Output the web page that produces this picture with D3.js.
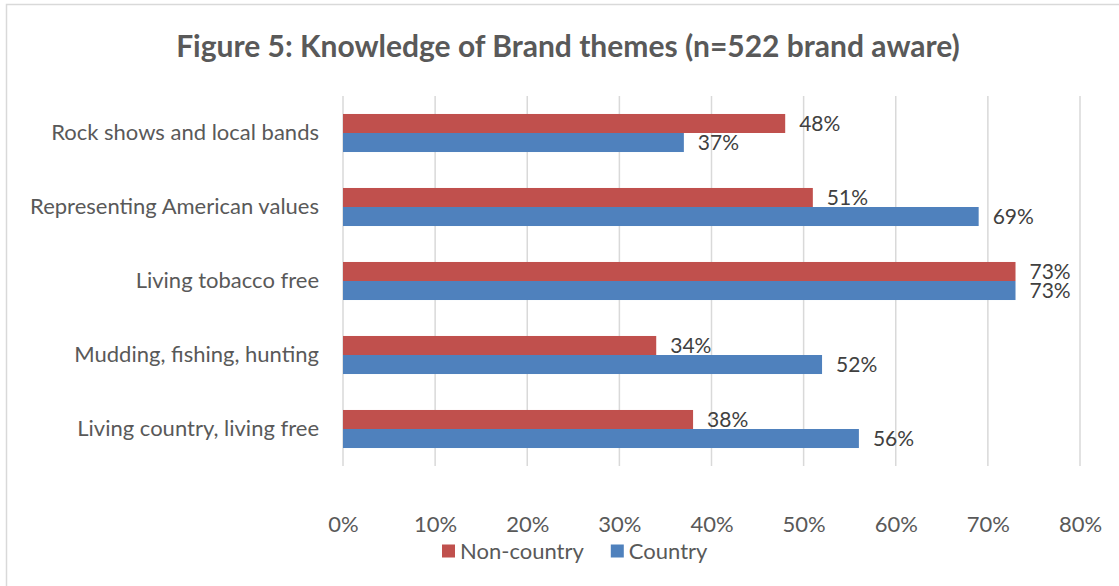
<!DOCTYPE html>
<html>
<head>
<meta charset="utf-8">
<script src="https://cdn.jsdelivr.net/npm/d3@7"></script>
<style>
  html, body { margin: 0; padding: 0; background: #fff; }
  svg { display: block; }
  text { font-family: Lato, "Open Sans", sans-serif; }
</style>
</head>
<body>
<svg id="chart" width="1119" height="586"></svg>
<script>
// Brand theme knowledge by audience segment
const categories = [
  "Rock shows and local bands",
  "Representing American values",
  "Living tobacco free",
  "Mudding, fishing, hunting",
  "Living country, living free"
];
const seriesNames = ["Non-country", "Country"];
const nonCountry = [48, 51, 73, 34, 38];
const country = [37, 69, 73, 52, 56];
const tickValues = [0, 10, 20, 30, 40, 50, 60, 70, 80];
const titleText = "Figure 5: Knowledge of Brand themes (n=522 brand aware)";

const colors = { "Non-country": "#C0504D", "Country": "#4F81BD" };
const FONT = "Lato, 'Open Sans', sans-serif";

const svg = d3.select("#chart");
const W = 1119, H = 586;

svg.append("rect").attr("width", W).attr("height", H).attr("fill", "#fff");
// chart frame
svg.append("rect")
  .attr("x", 6.5).attr("y", 4.5)
  .attr("width", W + 20).attr("height", H + 20)
  .attr("fill", "none").attr("stroke", "#D9D9D9").attr("stroke-width", 1.5);

const plot = { left: 343, right: 1080, top: 96, bottom: 466 };

const x = d3.scaleLinear().domain([0, 80]).range([plot.left, plot.right]);
const y = d3.scaleBand().domain(categories).range([plot.top, plot.bottom])
  .paddingInner(0.486).paddingOuter(0.243);
const ySub = d3.scaleBand().domain(seriesNames).range([0, y.bandwidth()]);

// gridlines
svg.append("g").selectAll("line").data(tickValues).join("line")
  .attr("x1", d => x(d)).attr("x2", d => x(d))
  .attr("y1", plot.top).attr("y2", plot.bottom)
  .attr("stroke", "#D9D9D9").attr("stroke-width", 1.5);

// tick labels
const xAxis = d3.axisBottom(x).tickValues(tickValues).tickFormat(d => d + "%").tickSize(0).tickPadding(0);
const gx = svg.append("g").attr("transform", `translate(0, 510)`).call(xAxis);
gx.select(".domain").remove();
gx.selectAll("text").attr("font-size", 22).attr("fill", "#595959")
  .attr("font-family", FONT).attr("dy", "0.35em").attr("y", 14);

// category labels
const yAxis = d3.axisLeft(y).tickSize(0).tickPadding(0);
const gy = svg.append("g").attr("transform", `translate(319, 0)`).call(yAxis);
gy.select(".domain").remove();
gy.selectAll("text").attr("font-size", 22).attr("fill", "#595959")
  .attr("font-family", FONT);

// bars
const rows = categories.map((c, i) => ({ cat: c, vals: [
  { s: "Non-country", v: nonCountry[i] },
  { s: "Country", v: country[i] }
]}));

const groups = svg.append("g").selectAll("g").data(rows).join("g")
  .attr("transform", d => `translate(0, ${y(d.cat)})`);

groups.selectAll("rect").data(d => d.vals).join("rect")
  .attr("x", x(0))
  .attr("y", d => ySub(d.s))
  .attr("width", d => x(d.v) - x(0))
  .attr("height", ySub.bandwidth())
  .attr("fill", d => colors[d.s]);

groups.selectAll("text.val").data(d => d.vals).join("text")
  .attr("class", "val")
  .attr("x", d => x(d.v) + 14)
  .attr("y", d => ySub(d.s) + ySub.bandwidth() / 2)
  .attr("dy", "0.35em")
  .attr("font-size", 21)
  .attr("fill", "#404040")
  .text(d => d.v + "%");

// title
svg.append("text")
  .attr("x", 568).attr("y", 57)
  .attr("text-anchor", "middle")
  .attr("font-size", 30).attr("font-weight", "bold")
  .attr("fill", "#595959")
  .text(titleText);

// legend
const legend = svg.append("g").attr("transform", "translate(442, 551)");
let lx = 0;
seriesNames.forEach((s, i) => {
  const g = legend.append("g").attr("transform", `translate(${lx}, 0)`);
  g.append("rect").attr("x", 0).attr("y", -6.5).attr("width", 13).attr("height", 13).attr("fill", colors[s]);
  const t = g.append("text").attr("x", 18).attr("y", 0).attr("dy", "0.35em")
    .attr("font-size", 22).attr("fill", "#595959").text(s);
  lx += 18 + t.node().getComputedTextLength() + 27;
});
</script>
</body>
</html>
